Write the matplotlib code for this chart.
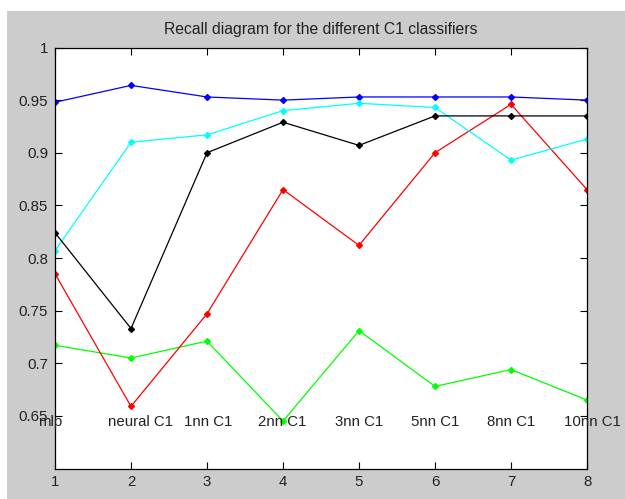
import matplotlib.pyplot as plt
from matplotlib.patches import Rectangle

plt.rcParams['font.family'] = ['Liberation Sans', 'DejaVu Sans']

# Classifier positions and labels
x = [1, 2, 3, 4, 5, 6, 7, 8]
names = ['mlp', 'neural C1', '1nn C1', '2nn C1', '3nn C1', '5nn C1', '8nn C1', '10nn C1']
name_x = [0.93, 2.13, 3.01, 3.99, 5.0, 6.0, 7.0, 8.07]

# Recall values
blue = [0.948, 0.964, 0.953, 0.950, 0.953, 0.953, 0.953, 0.950]
cyan = [0.807, 0.910, 0.917, 0.940, 0.947, 0.943, 0.893, 0.913]
black = [0.824, 0.733, 0.900, 0.929, 0.907, 0.935, 0.935, 0.935]
red = [0.785, 0.659, 0.747, 0.865, 0.812, 0.900, 0.946, 0.865]
green = [0.717, 0.705, 0.721, 0.645, 0.731, 0.678, 0.694, 0.665]

fig = plt.figure(figsize=(6.25, 4.99), dpi=100)
fig.patch.set_facecolor('white')
# MATLAB-like gray figure area
fig.add_artist(Rectangle((7 / 625, 0), 1, 1 - 11 / 499, transform=fig.transFigure,
                         facecolor='#cccccc', edgecolor='none', zorder=-10))

ax = fig.add_axes([55 / 625, 1 - 468.5 / 499, 532 / 625, 421 / 499])
ax.set_zorder(5)
ax.set_facecolor('white')

for vals, col in [(blue, '#0000ff'), (green, '#00ff00'), (red, '#ff0000'),
                  (cyan, '#00ffff'), (black, '#000000')]:
    ax.plot(x, vals, color=col, lw=0.9, marker='D', ms=3.0, mec=col, mfc=col)

for xi, nm in zip(name_x, names):
    ax.text(xi, 0.6445, nm, ha='center', va='center', fontsize=10.8, color='#222222')

ax.set_xlim(1, 8)
ax.set_ylim(0.6, 1.0)
ax.set_xticks(x)
ax.set_yticks([0.65, 0.7, 0.75, 0.8, 0.85, 0.9, 0.95, 1.0])
ax.set_yticklabels(['0.65', '0.7', '0.75', '0.8', '0.85', '0.9', '0.95', '1'])
ax.tick_params(direction='in', length=5, width=0.8, labelsize=10.8, top=True, right=True,
               labelcolor='#222222', pad=5)
for s in ax.spines.values():
    s.set_linewidth(0.9)

ax.set_title('Recall diagram for the different C1 classifiers', fontsize=11.3, pad=10,
             color='#222222')

plt.savefig('out.png', dpi=100)
